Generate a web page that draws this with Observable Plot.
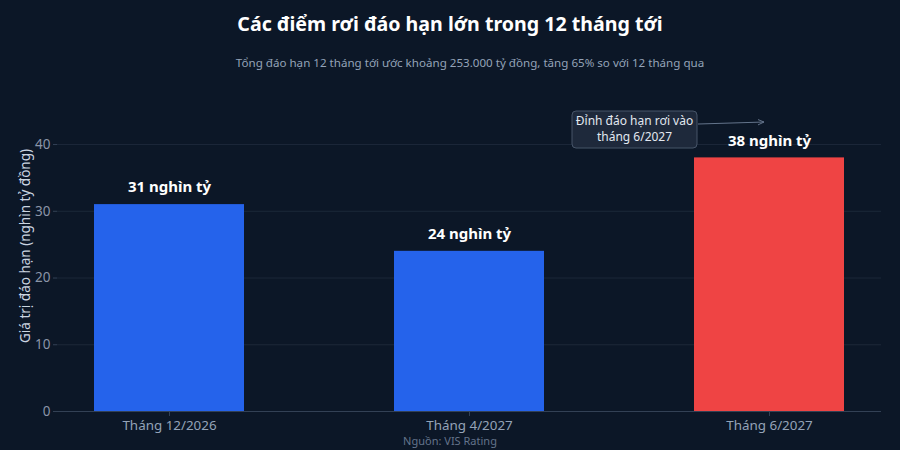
<!DOCTYPE html>
<html>
<head>
<meta charset="utf-8">
<script src="https://cdn.jsdelivr.net/npm/d3@7"></script>
<script src="https://cdn.jsdelivr.net/npm/@observablehq/plot@0.6"></script>
<style>
  html, body { margin: 0; padding: 0; background: #0c1727; }
  #wrap { position: relative; width: 900px; height: 450px; overflow: hidden; background: #0c1727; font-family: "Noto Sans", "Open Sans", sans-serif; }
  #title { position: absolute; top: 11px; left: 0; width: 900px; text-align: center; font-size: 19.6px; font-weight: 700; color: #ffffff; line-height: 26px; }
  #subtitle { position: absolute; top: 55px; left: 20px; width: 900px; text-align: center; font-size: 11.6px; color: #94a3b8; line-height: 16px; }
  #source { position: absolute; top: 435px; left: 0; width: 900px; text-align: center; font-size: 11px; color: #64748b; line-height: 11px; }
  #chart { position: absolute; top: 0; left: 0; }
</style>
</head>
<body>
<div id="wrap">
  <div id="chart"></div>
  <div id="title"></div>
  <div id="subtitle"></div>
  <div id="source"></div>
</div>
<script>
const titleText = "Các điểm rơi đáo hạn lớn trong 12 tháng tới";
const subtitleText = "Tổng đáo hạn 12 tháng tới ước khoảng 253.000 tỷ đồng, tăng 65% so với 12 tháng qua";
const sourceText = "Nguồn: VIS Rating";
const yLabel = "Giá trị đáo hạn (nghìn tỷ đồng)";
const categories = ["Tháng 12/2026", "Tháng 4/2027", "Tháng 6/2027"];
const values = [31, 24, 38];
const valueLabels = ["31 nghìn tỷ", "24 nghìn tỷ", "38 nghìn tỷ"];
const barColors = ["#2563eb", "#2563eb", "#ef4444"];
const yTicks = [0, 10, 20, 30, 40];
const annotationLines = ["Đỉnh đáo hạn rơi vào", "tháng 6/2027"];
const annotationTarget = {category: "Tháng 6/2027", value: 43.3};

document.getElementById("title").textContent = titleText;
document.getElementById("subtitle").textContent = subtitleText;
document.getElementById("source").textContent = sourceText;

const data = categories.map((c, i) => ({category: c, value: values[i], label: valueLabels[i], color: barColors[i]}));

const chart = Plot.plot({
  width: 900,
  height: 450,
  marginLeft: 57,
  marginRight: 19,
  marginTop: 104,
  marginBottom: 39,
  style: {background: "transparent", color: "#94a3b8", fontFamily: "Noto Sans, Open Sans, sans-serif", fontSize: "13px"},
  x: {domain: categories, paddingInner: 0.5, paddingOuter: 0.123, label: null},
  y: {domain: [0, 46], label: null},
  marks: [
    Plot.gridY(yTicks, {stroke: "#1c2839", strokeOpacity: 1}),
    Plot.barY(data, {x: "category", y: "value", fill: "color"}),
    Plot.ruleY([0], {stroke: "#334155", strokeWidth: 1}),
    Plot.axisY(yTicks, {tickSize: 4, tickPadding: 3, stroke: "#334155", fill: "#8b95a7", fontSize: 13.5, label: null}),
    Plot.axisX({tickSize: 5, tickPadding: 4, stroke: "#334155", fill: "#94a3b8", fontSize: 13.4, label: null}),
    Plot.text([yLabel], {frameAnchor: "left", textAnchor: "middle", rotate: -90, dx: -32, dy: -12, fill: "#cbd5e1", fontSize: 13.5}),
    Plot.text(data, {x: "category", y: "value", text: "label", dy: -17, fill: "#ffffff", fontWeight: "bold", fontSize: 15})
  ]
});
document.getElementById("chart").appendChild(chart);

// Annotation: box + arrow positioned via the plot's scales
const xs = chart.scale("x");
const ys = chart.scale("y");
const ax = xs.apply(annotationTarget.category) + xs.bandwidth / 2 - 5;
const ay = ys.apply(annotationTarget.value);
const svg = d3.select(chart.tagName.toLowerCase() === "svg" ? chart : chart.querySelector("svg"));
const g = svg.append("g");
const bw = 125, bh = 37;
const bx = ax - 192, by = ay - 11;
g.append("defs").append("marker")
  .attr("id", "ah").attr("viewBox", "0 0 10 10").attr("refX", 9).attr("refY", 5)
  .attr("markerWidth", 7).attr("markerHeight", 7).attr("orient", "auto")
  .append("path").attr("d", "M0,1 L9,5 L0,9").attr("fill", "none").attr("stroke", "#64748b").attr("stroke-width", 1.4);
g.append("line")
  .attr("x1", bx + bw + 1).attr("y1", ay + 2).attr("x2", ax).attr("y2", ay)
  .attr("stroke", "#64748b").attr("stroke-width", 1).attr("marker-end", "url(#ah)");
g.append("rect")
  .attr("x", bx).attr("y", by).attr("width", bw).attr("height", bh).attr("rx", 4)
  .attr("fill", "#1e293b").attr("stroke", "#475569").attr("stroke-width", 1);
annotationLines.forEach((t, i) => {
  g.append("text")
    .attr("x", bx + bw / 2).attr("y", by + 14 + i * 16)
    .attr("text-anchor", "middle").attr("font-size", 12).attr("fill", "#e2e8f0")
    .attr("font-family", "Noto Sans, Open Sans, sans-serif")
    .text(t);
});
</script>
</body>
</html>
